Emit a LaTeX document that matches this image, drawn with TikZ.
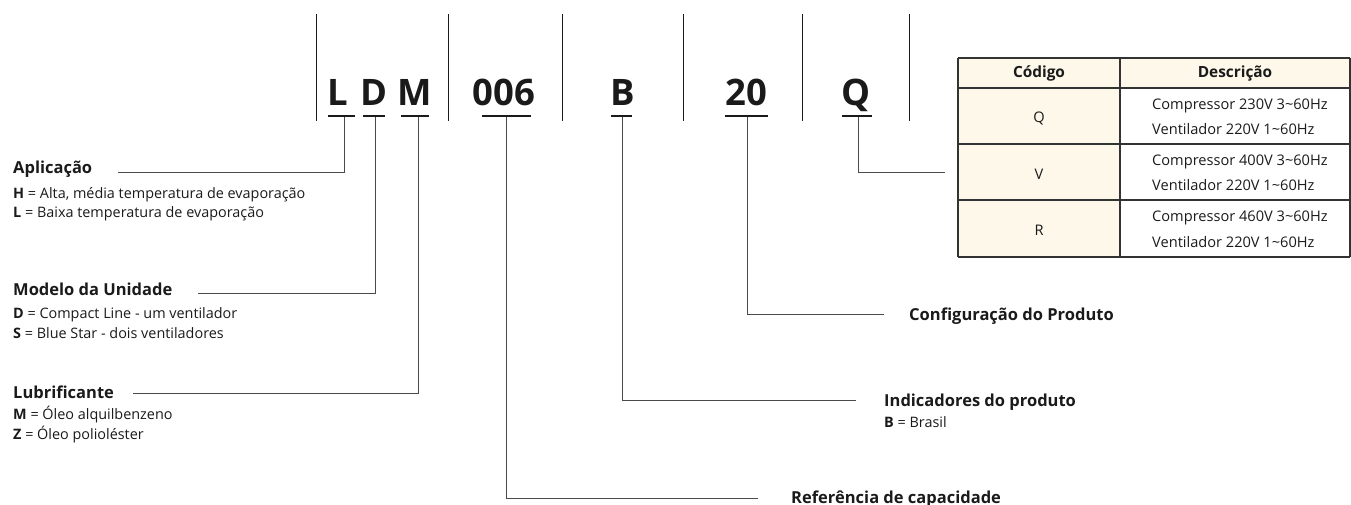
\documentclass[tikz,border=0pt]{standalone}
\usepackage{fontspec}
\setmainfont{Open Sans}
\definecolor{ink}{HTML}{1A1A1A}
\definecolor{wire}{HTML}{4A4A4A}
\definecolor{cream}{HTML}{FDF8EA}
\definecolor{grid}{HTML}{333333}
\begin{document}
\begin{tikzpicture}[x=1pt,y=-1pt,
  codechar/.style={font=\fontsize{36.5}{36.5}\selectfont\bfseries, text=ink, inner sep=0pt, anchor=base},
  title/.style={font=\fontsize{16.5}{16.5}\selectfont\bfseries, text=ink, inner sep=0pt, anchor=base west},
  desc/.style={font=\fontsize{14.4}{14.4}\selectfont, text=ink, inner sep=0pt, anchor=base west},
  cell/.style={font=\fontsize{14.6}{14.6}\selectfont, text=ink, inner sep=0pt, anchor=base},
  celll/.style={font=\fontsize{14.6}{14.6}\selectfont, text=ink, inner sep=0pt, anchor=base west},
  head/.style={font=\fontsize{15.4}{15.4}\selectfont\bfseries, text=ink, inner sep=0pt, anchor=base},
  sepline/.style={line width=1pt, draw=ink},
  uline/.style={line width=2.4pt, draw=ink},
  conn/.style={line width=1pt, draw=wire},
  gridline/.style={line width=1.2pt, draw=grid}]
\useasboundingbox (0,0) rectangle (1351,505);

% separators
\foreach \sx in {316,448,562,683,802,909}
  \draw[sepline] (\sx,14) -- (\sx,121);

% code characters
\node[codechar] (cL) at (338,106) {L};
\node[codechar] (cD) at (374.5,106) {D};
\node[codechar] (cM) at (415,106) {M};
\node[codechar] (c006) at (504,106) {006};
\node[codechar] (cB) at (623,106) {B};
\node[codechar] (c20) at (746.5,106) {20};
\node[codechar] (cQ) at (856,106) {Q};

% underlines
\draw[uline] (328,116) -- (355,116);
\draw[uline] (363,116) -- (385,116);
\draw[uline] (401,116) -- (429,116);
\draw[uline] (482,116) -- (531,116);
\draw[uline] (611,116) -- (632,116);
\draw[uline] (725,116) -- (768,116);
\draw[uline] (842,116) -- (872,116);

\coordinate (uL) at (344,117);
\coordinate (uD) at (375,117);
\coordinate (uM) at (418,117);
\coordinate (u006) at (506,117);
\coordinate (uB) at (622,117);
\coordinate (u20) at (747,117);
\coordinate (uQ) at (858,117);

% left labels
\node[title] (tA) at (13,174) {Aplicação};
\node[desc] (dA1) at (13,199) {\textbf{H} = Alta, média temperatura de evaporação};
\node[desc] (dA2) at (13,218) {\textbf{L} = Baixa temperatura de evaporação};

\node[title] (tMo) at (13,295) {Modelo da Unidade};
\node[desc] (dM1) at (13,318) {\textbf{D} = Compact Line - um ventilador};
\node[desc] (dM2) at (13,338) {\textbf{S} = Blue Star - dois ventiladores};

\node[title] (tLu) at (13,398) {Lubrificante};
\node[desc] (dL1) at (13,419) {\textbf{M} = Óleo alquilbenzeno};
\node[desc] (dL2) at (13,439) {\textbf{Z} = Óleo polioléster};

% right labels
\node[title] (tC) at (909,320) {Configuração do Produto};
\node[title] (tI) at (884,406) {Indicadores do produto};
\node[desc] (dI1) at (884,427) {\textbf{B} = Brasil};
\node[title] (tR) at (791,503) {Referência de capacidade};

% line ends
\coordinate (eA) at (118,173);
\coordinate (eMo) at (198,293);
\coordinate (eLu) at (133,393);
\coordinate (eC) at (884,314);
\coordinate (eI) at (856,400);
\coordinate (eR) at (758,498);
\coordinate (eQ) at (945,173);

% connectors
\draw[conn] (uL) |- (eA);
\draw[conn] (uD) |- (eMo);
\draw[conn] (uM) |- (eLu);
\draw[conn] (u20) |- (eC);
\draw[conn] (uB) |- (eI);
\draw[conn] (u006) |- (eR);
\draw[conn] (uQ) |- (eQ);

% table
\fill[cream] (958,58) rectangle (1350,88);
\fill[cream] (958,88) rectangle (1120,257);
\foreach \ty in {58,88,144,200,257}
  \draw[gridline] (958,\ty) -- (1350,\ty);
\foreach \tx in {958,1120,1350}
  \draw[gridline] (\tx,58) -- (\tx,257);

\node[head] (hC) at (1039,78) {Código};
\node[head] (hD) at (1235,78) {Descrição};
\node[cell] (kQ) at (1039,123) {Q};
\node[cell] (kV) at (1039,179) {V};
\node[cell] (kR) at (1039,235) {R};
\node[celll] (q1) at (1152,110) {Compressor 230V 3\textasciitilde60Hz};
\node[celll] (q2) at (1152,135) {Ventilador 220V 1\textasciitilde60Hz};
\node[celll] (v1) at (1152,166) {Compressor 400V 3\textasciitilde60Hz};
\node[celll] (v2) at (1152,191) {Ventilador 220V 1\textasciitilde60Hz};
\node[celll] (r1) at (1152,222) {Compressor 460V 3\textasciitilde60Hz};
\node[celll] (r2) at (1152,247) {Ventilador 220V 1\textasciitilde60Hz};
\end{tikzpicture}
\end{document}
